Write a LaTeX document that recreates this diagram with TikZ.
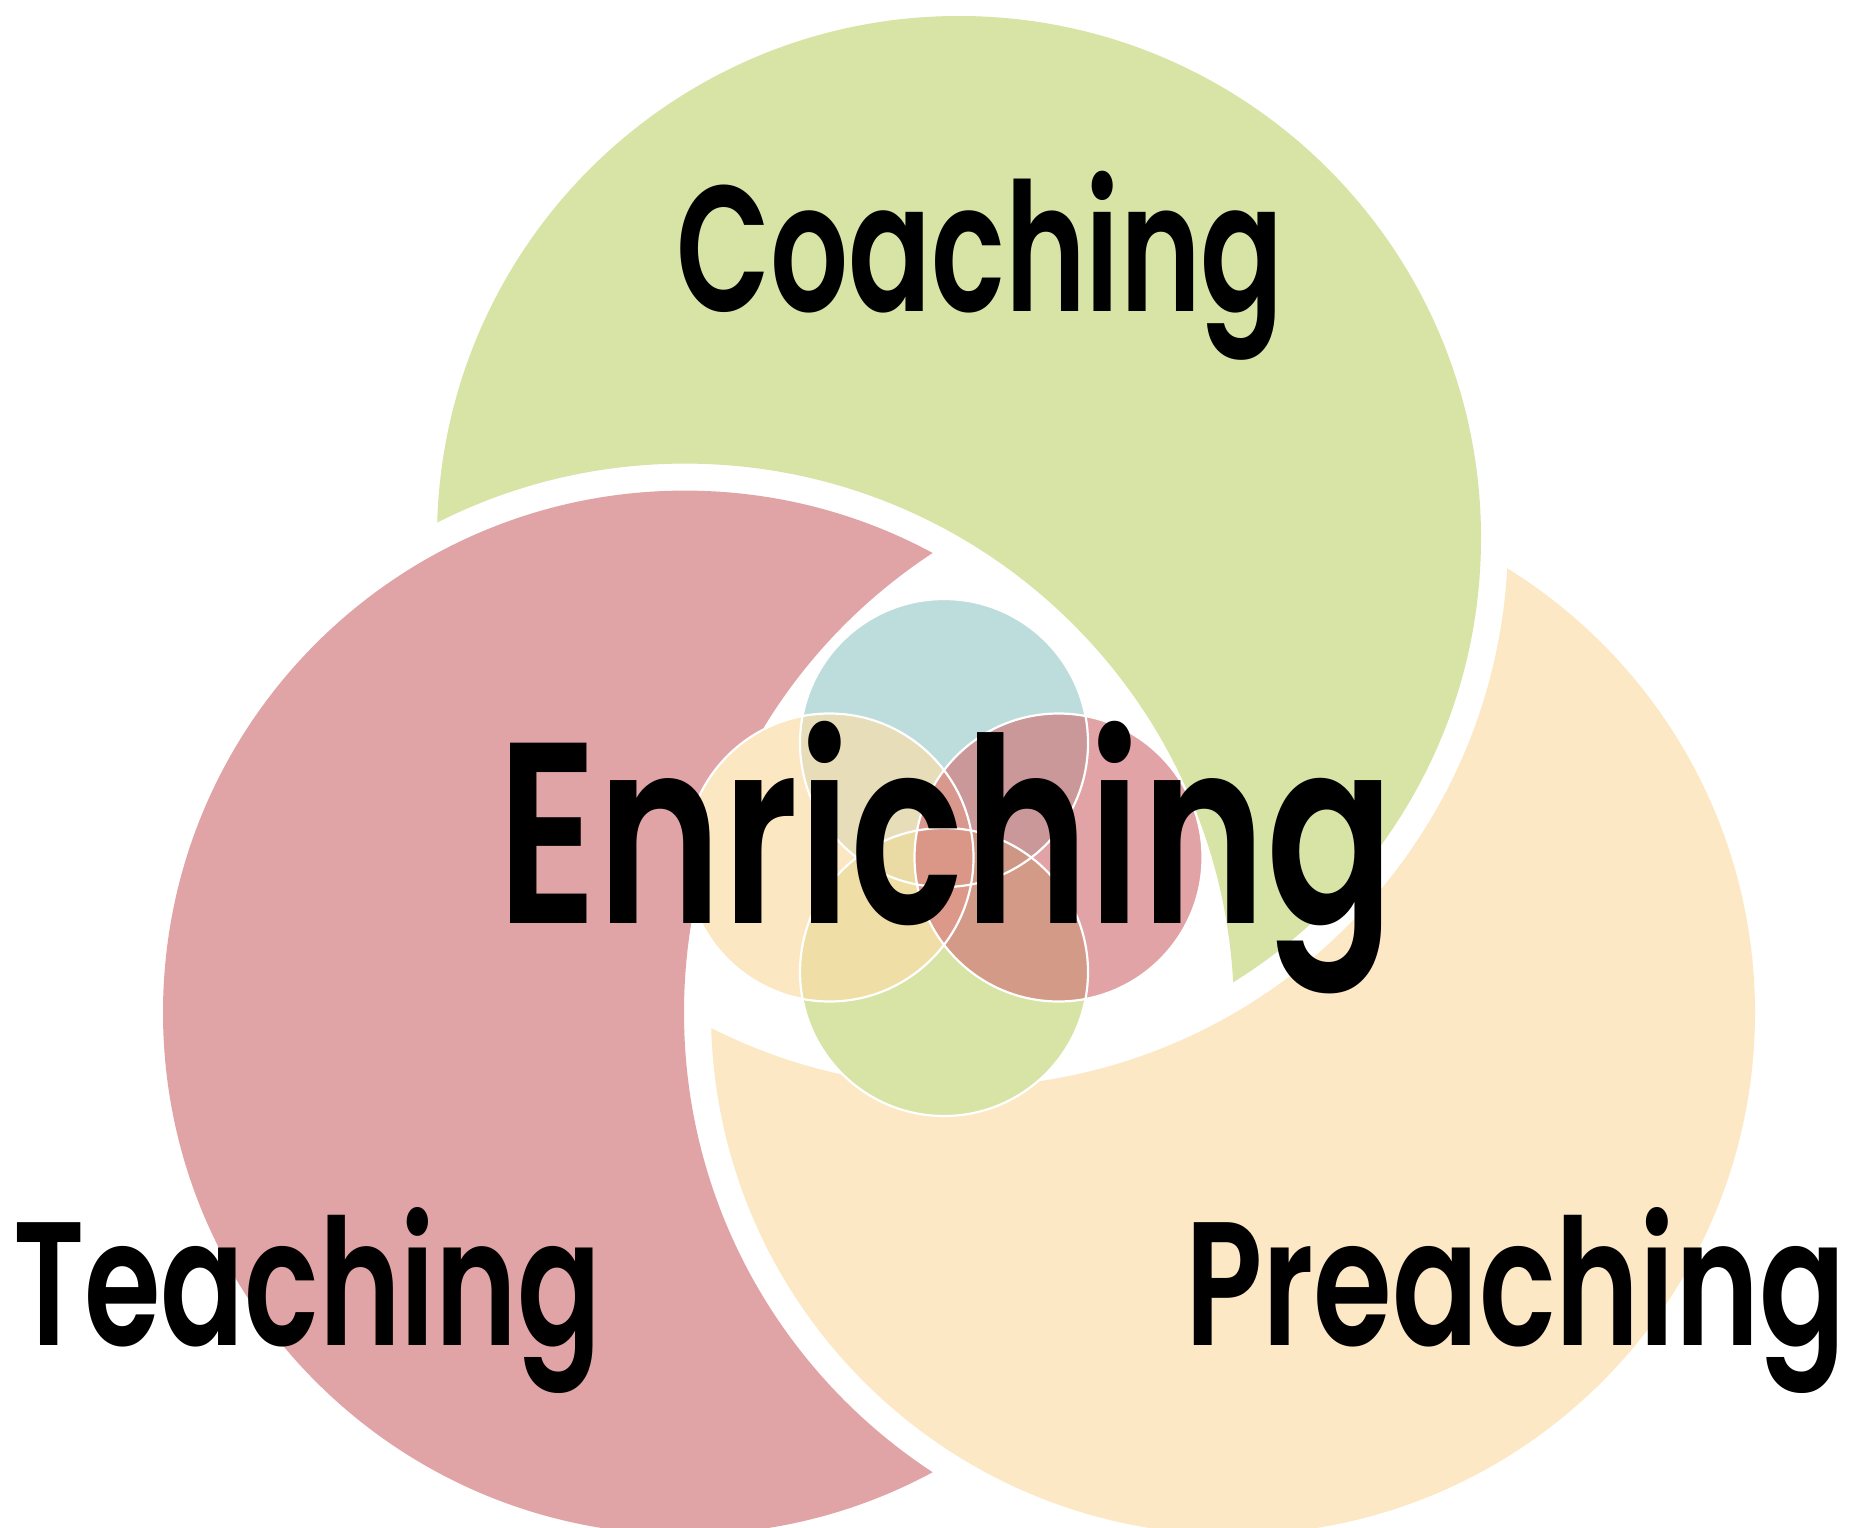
\documentclass[tikz,border=0pt]{standalone}
\usepackage{fontspec}
\IfFontExistsTF{Poppins SemiBold}{\setmainfont{Poppins SemiBold}}{\setmainfont{Poppins}[FakeBold=1.2]}
\usepackage{graphicx}
\definecolor{bgreen}{RGB}{216,227,166}
\definecolor{bred}{RGB}{225,164,166}
\definecolor{byellow}{RGB}{253,232,198}
\definecolor{steal}{RGB}{159,205,205}
\definecolor{sgreen}{RGB}{198,214,124}
\definecolor{syellow}{RGB}{252,221,168}
\definecolor{sred}{RGB}{211,120,123}
\newcommand{\fitlabel}[3]{\resizebox{#1}{\height}{\fontsize{#2}{#2}\selectfont #3}}
\begin{document}
\begin{tikzpicture}[x=1pt,y=-1pt,
  lbl/.style={inner sep=0pt, outer sep=0pt, anchor=base west, text=black},
  small/.style={fill opacity=0.68},
  ring/.style={draw=white, line width=2.2pt}]
\useasboundingbox (0,0) rectangle (1863,1528);
\fill[white] (0,0) rectangle (1863,1528);
\def\rad{522}
\def\cut{549}
\coordinate (G) at (959,538);
\coordinate (R) at (685,1012.6);
\coordinate (Y) at (1233,1012.6);
% big swirl shapes: own circle minus the widened circle of the next one
\begin{scope}[even odd rule]
  \clip (-200,-200) rectangle (2100,1800) (R) circle[radius=\cut];
  \fill[bgreen] (G) circle[radius=\rad];
\end{scope}
\begin{scope}[even odd rule]
  \clip (-200,-200) rectangle (2100,1800) (Y) circle[radius=\cut];
  \fill[bred] (R) circle[radius=\rad];
\end{scope}
\begin{scope}[even odd rule]
  \clip (-200,-200) rectangle (2100,1800) (G) circle[radius=\cut];
  \fill[byellow] (Y) circle[radius=\rad];
\end{scope}
% small circles
\coordinate (st) at (944,743);
\coordinate (sl) at (829.5,857.5);
\coordinate (sr) at (1058.5,857.5);
\coordinate (sb) at (944,972);
\fill[white] (st) circle[radius=144] (sb) circle[radius=144]
             (sl) circle[radius=144] (sr) circle[radius=144];
\fill[small, steal] (st) circle[radius=144];
\fill[small, sgreen] (sb) circle[radius=144];
\fill[small, syellow] (sl) circle[radius=144];
\fill[small, sred] (sr) circle[radius=144];
\draw[ring] (st) circle[radius=144];
\draw[ring] (sb) circle[radius=144];
\draw[ring] (sl) circle[radius=144];
\draw[ring] (sr) circle[radius=144];
% labels
\node[lbl] (coach) at (676,311.3) {\fitlabel{608pt}{179}{Coaching}};
\node[lbl] (enrich) at (497,923) {\fitlabel{897pt}{258}{Enriching}};
\node[lbl] (teach) at (13,1345) {\fitlabel{588pt}{176}{Teaching}};
\node[lbl] (preach) at (1185,1345) {\fitlabel{661pt}{176}{Preaching}};
\end{tikzpicture}
\end{document}
